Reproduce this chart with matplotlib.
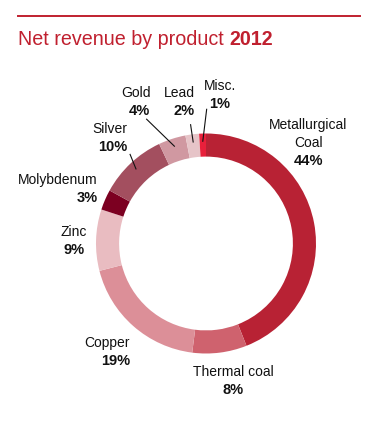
import numpy as np
import matplotlib.pyplot as plt

# dados do gráfico
produtos = ["Metallurgical\nCoal", "Thermal coal", "Copper", "Zinc", "Molybdenum",
            "Silver", "Gold", "Lead", "Misc."]
percentuais = [44, 8, 19, 9, 3, 10, 4, 2, 1]
cores = ["#B82234", "#CF626E", "#DC8F98", "#E9BCC1", "#7C0021",
         "#A34F5F", "#D098A1", "#E6C4C8", "#E8203B"]

# posição dos rótulos (em raios, primeira linha) e alinhamento
pos_rotulos = [(0.93, 1.077), (0.25, -1.168), (-0.69, -0.905), (-1.20, 0.105), (-0.982, 0.577),
               (-0.717, 1.04), (-0.505, 1.368), (-0.105, 1.368), (0.123, 1.432)]
alinhamento = ["center", "center", "right", "center", "right",
               "right", "right", "right", "center"]
# linhas de chamada: ponta externa
chamadas = {5: (-0.69, 0.81), 6: (-0.54, 1.13), 7: (-0.14, 1.08), 8: (0.006, 1.22)}

vermelho = "#C0202F"
fonte = "Liberation Sans"

fig = plt.figure(figsize=(3.83, 4.28), dpi=100)
W, H = 383, 428
cx, cy, R = 206, 243.5, 110
ax = fig.add_axes([(cx - R) / W, (H - cy - R) / H, 2 * R / W, 2 * R / H])
ax.pie(percentuais, colors=cores, startangle=90, counterclock=False, radius=1.0,
       wedgeprops=dict(width=0.21, linewidth=0))
ax.set_xlim(-1, 1)
ax.set_ylim(-1, 1)
ax.set_aspect("equal")
ax.axis("off")

# rótulos
dy = 0.163
for i, (nome, p) in enumerate(zip(produtos, percentuais)):
    x, y = pos_rotulos[i]
    linhas = nome.split("\n")
    for k, l in enumerate(linhas):
        ax.text(x, y - k * dy, l, ha=alinhamento[i], va="center", fontsize=10,
                family=fonte, color="#111111", clip_on=False)
    ax.text(x, y - len(linhas) * dy, f"{p}%", ha=alinhamento[i], va="center",
            fontsize=10.5, fontweight="bold", family=fonte, color="#111111",
            clip_on=False)

# linhas de chamada
cum = np.cumsum([0] + percentuais)
for i, (ex, ey) in chamadas.items():
    meio = (cum[i] + cum[i + 1]) / 2
    ang = np.deg2rad(90 - meio * 3.6)
    r = 0.93
    ax.plot([r * np.cos(ang), ex], [r * np.sin(ang), ey], color="#111111",
            linewidth=0.8, clip_on=False)

# linha e título no topo
fig.add_artist(plt.Line2D([18 / W, 360 / W], [1 - 16 / H, 1 - 16 / H],
                          color=vermelho, linewidth=1.4))
t1 = fig.text(18 / W, 1 - 45 / H, "Net revenue by product ", fontsize=14.2,
              color=vermelho, family=fonte, va="baseline")
fig.canvas.draw()
bb = t1.get_window_extent()
fig.text(bb.x1 / W, 1 - 45 / H, "2012", fontsize=14.2, fontweight="bold",
         color=vermelho, family=fonte, va="baseline")

fig.savefig("out.png", dpi=100)
